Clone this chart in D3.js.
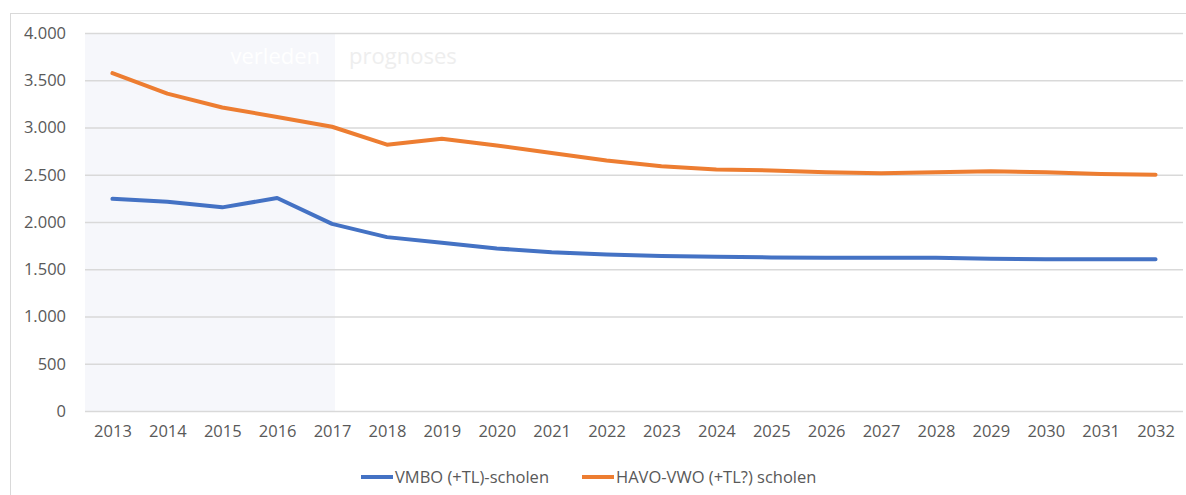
<!DOCTYPE html>
<html>
<head>
<meta charset="utf-8">
<script src="https://cdn.jsdelivr.net/npm/d3@7"></script>
<style>
  html, body { margin: 0; padding: 0; background: #ffffff; }
  svg { display: block; }
  text { font-family: "Open Sans", "Segoe UI", sans-serif; }
</style>
</head>
<body>
<svg id="chart" width="1186" height="495"></svg>
<script>
const years = ["2013","2014","2015","2016","2017","2018","2019","2020","2021","2022",
               "2023","2024","2025","2026","2027","2028","2029","2030","2031","2032"];
const vmbo = [2245, 2215, 2155, 2254, 1980, 1840, 1780, 1720, 1680, 1655,
              1640, 1632, 1625, 1623, 1623, 1622, 1612, 1605, 1605, 1605];
const havo = [3575, 3358, 3212, 3112, 3008, 2818, 2880, 2810, 2730, 2650,
              2590, 2555, 2545, 2526, 2515, 2526, 2536, 2526, 2508, 2500];
const yTicks = [0, 500, 1000, 1500, 2000, 2500, 3000, 3500, 4000];
const seriesNames = ["VMBO (+TL)-scholen", "HAVO-VWO (+TL?) scholen"];
const pastYears = ["2013", "2017"];
const periodLabels = ["verleden", "prognoses"];

const svg = d3.select("#chart");
const margin = {left: 85, right: 3, top: 33, bottom: 84};
const W = 1186, H = 495;
const plotW = W - margin.left - margin.right;
const plotH = H - margin.top - margin.bottom;

const nl = d3.formatLocale({decimal: ",", thousands: ".", grouping: [3], currency: ["€", ""]});
const fmt = nl.format(",");

// chart frame
svg.append("rect").attr("x", 10.5).attr("y", 13.5).attr("width", 1200).attr("height", 600)
  .attr("fill", "none").attr("stroke", "#d9d9d9").attr("stroke-width", 1);

const g = svg.append("g").attr("transform", `translate(${margin.left},${margin.top})`);

const x = d3.scalePoint().domain(years).range([0, plotW]).padding(0.5);
const y = d3.scaleLinear().domain([0, 4000]).range([plotH, 0]);

const splitX = x(pastYears[1]) + 3;

// shaded "verleden" region: from plot left to 2017
g.append("rect")
  .attr("x", 0).attr("y", y(4000))
  .attr("width", splitX)
  .attr("height", y(0) - y(4000))
  .attr("fill", "#f6f7fb");

// gridlines
const yAxis = d3.axisLeft(y).tickValues(yTicks).tickSize(-plotW).tickPadding(19).tickFormat(d => fmt(d));
const ya = g.append("g").call(yAxis);
ya.select(".domain").remove();
ya.selectAll(".tick line").attr("stroke", "#d9d9d9").attr("stroke-width", 1.3);
ya.selectAll(".tick text").attr("fill", "#595959").attr("font-size", "16.5px");

const xAxis = d3.axisBottom(x).tickSize(0).tickPadding(14);
const xa = g.append("g").attr("transform", `translate(0,${plotH})`).call(xAxis);
xa.select(".domain").remove();
xa.selectAll(".tick text").attr("fill", "#595959").attr("font-size", "16.5px");

// period labels
g.append("text").attr("x", splitX - 15).attr("y", 31)
  .attr("text-anchor", "end").attr("fill", "#ffffff").attr("font-size", "22px")
  .text(periodLabels[0]);
g.append("text").attr("x", splitX + 14).attr("y", 31)
  .attr("text-anchor", "start").attr("fill", "#eeeeee").attr("font-size", "22px")
  .text(periodLabels[1]);

const line = d3.line().x((d, i) => x(years[i])).y(d => y(d));
const colors = ["#4472c4", "#ed7d31"];
[vmbo, havo].forEach((s, k) => {
  g.append("path").datum(s).attr("d", line)
    .attr("fill", "none").attr("stroke", colors[k]).attr("stroke-width", 4)
    .attr("stroke-linejoin", "round").attr("stroke-linecap", "round");
});

// legend
const legend = svg.append("g");
const legendItems = [{x: 361, name: seriesNames[0], c: colors[0]}, {x: 582, name: seriesNames[1], c: colors[1]}];
legendItems.forEach(it => {
  legend.append("line").attr("x1", it.x).attr("x2", it.x + 32).attr("y1", 477).attr("y2", 477)
    .attr("stroke", it.c).attr("stroke-width", 4);
  legend.append("text").attr("x", it.x + 34).attr("y", 483).attr("fill", "#595959")
    .attr("font-size", "16.5px").text(it.name);
});
</script>
</body>
</html>
